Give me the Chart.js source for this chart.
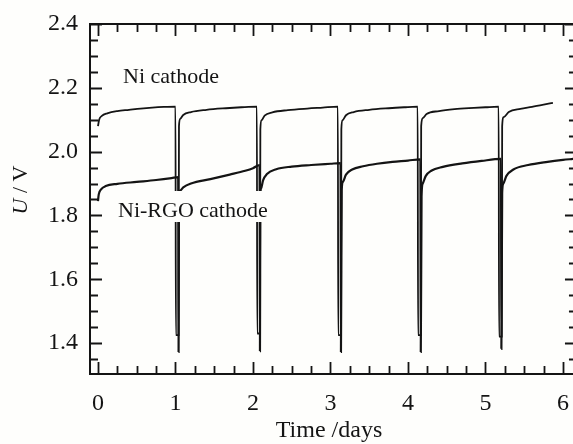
<!DOCTYPE html>
<html>
<head>
<meta charset="utf-8">
<script src="https://cdn.jsdelivr.net/npm/chart.js@4.4.1/dist/chart.umd.min.js"></script>
<style>
  html, body { margin: 0; padding: 0; background: #fefefc; }
  canvas { display: block; }
</style>
</head>
<body>
<canvas id="c" width="573" height="444"></canvas>
<script>
// ---- data ----
const niTime = [0, 0.015, 0.05, 0.12, 0.25, 0.4, 0.55, 0.7, 0.85, 1.0,
  1.005, 1.04, 1.045, 1.06, 1.1, 1.2, 1.4, 1.65, 1.85, 2.05,
  2.055, 2.09, 2.095, 2.11, 2.15, 2.25, 2.45, 2.7, 2.9, 3.095,
  3.10, 3.135, 3.14, 3.155, 3.2, 3.3, 3.5, 3.75, 3.95, 4.125,
  4.13, 4.165, 4.17, 4.19, 4.24, 4.4, 4.6, 4.85, 5.0, 5.17,
  5.175, 5.21, 5.215, 5.235, 5.3, 5.45, 5.6, 5.75, 5.87];
const niU = [2.08, 2.10, 2.112, 2.12, 2.127, 2.131, 2.135, 2.138, 2.14, 2.141,
  1.425, 1.425, 2.08, 2.103, 2.115, 2.124, 2.131, 2.136, 2.139, 2.141,
  1.43, 1.43, 2.07, 2.098, 2.113, 2.123, 2.13, 2.135, 2.138, 2.141,
  1.425, 1.425, 2.07, 2.098, 2.114, 2.124, 2.131, 2.136, 2.139, 2.141,
  1.425, 1.425, 2.08, 2.105, 2.118, 2.127, 2.133, 2.137, 2.139, 2.141,
  1.42, 1.42, 2.08, 2.108, 2.124, 2.134, 2.14, 2.147, 2.153];

const rgoTime = [0, 0.01, 0.04, 0.1, 0.25, 0.5, 0.75, 0.95, 1.035,
  1.04, 1.045, 1.06, 1.1, 1.2, 1.45, 1.7, 1.9, 2.0, 2.085,
  2.09, 2.095, 2.105, 2.13, 2.18, 2.3, 2.5, 2.75, 3.0, 3.13,
  3.135, 3.145, 3.16, 3.2, 3.28, 3.42, 3.6, 3.8, 4.0, 4.16,
  4.165, 4.175, 4.19, 4.23, 4.3, 4.45, 4.7, 4.95, 5.2,
  5.205, 5.215, 5.23, 5.27, 5.36, 5.55, 5.8, 6.0, 6.13];
const rgoU = [1.845, 1.866, 1.882, 1.892, 1.899, 1.905, 1.911, 1.917, 1.92,
  1.372, 1.86, 1.878, 1.888, 1.9, 1.914, 1.928, 1.94, 1.948, 1.958,
  1.375, 1.86, 1.885, 1.91, 1.93, 1.945, 1.953, 1.958, 1.962, 1.964,
  1.372, 1.88, 1.905, 1.928, 1.944, 1.954, 1.962, 1.968, 1.972, 1.976,
  1.372, 1.86, 1.9, 1.924, 1.94, 1.952, 1.963, 1.971, 1.977,
  1.382, 1.87, 1.9, 1.924, 1.944, 1.958, 1.968, 1.974, 1.977];

const xTickLabels = [0, 1, 2, 3, 4, 5, 6];
const yTickLabels = [1.4, 1.6, 1.8, 2.0, 2.2, 2.4];
const seriesNames = ['Ni cathode', 'Ni-RGO cathode'];
const xTitle = 'Time /days';
const xRange = [-0.103, 6.129];   // visible part of the axis
const xFrameRight = 6.18;         // right-hand axis sits just past the picture edge
const yRange = [1.303, 2.4];

// ---- styling ----
const SERIF = '"Liberation Serif", "Times New Roman", serif';
const INK = '#141414';

const bgPlugin = {
  id: 'bg',
  beforeDraw(chart) {
    const ctx = chart.ctx;
    ctx.save();
    ctx.fillStyle = '#fefefc';
    ctx.fillRect(0, 0, chart.width, chart.height);
    ctx.restore();
  }
};

const framePlugin = {
  id: 'frame',
  afterDatasetsDraw(chart) {
    const ctx = chart.ctx;
    const a = chart.chartArea;
    const xs = chart.scales.x, ys = chart.scales.y;
    const rx = xs.getPixelForValue(xFrameRight);
    ctx.save();
    // label boxes (white backgrounds hide spike lines)
    ctx.font = '22px ' + SERIF;
    ctx.textBaseline = 'alphabetic';
    ctx.textAlign = 'left';
    ctx.fillStyle = '#fefefc';
    const w2 = ctx.measureText(seriesNames[1]).width;
    ctx.fillRect(114, 191, w2 + 8, 31);
    ctx.fillStyle = INK;
    ctx.fillText(seriesNames[0], 123, 83);
    ctx.fillText(seriesNames[1], 118, 217);

    // frame
    ctx.strokeStyle = INK;
    ctx.lineWidth = 2;
    ctx.beginPath();
    ctx.moveTo(a.left, a.top); ctx.lineTo(rx, a.top);
    ctx.moveTo(a.left, a.bottom); ctx.lineTo(rx, a.bottom);
    ctx.moveTo(a.left, a.top - 1); ctx.lineTo(a.left, a.bottom + 1);
    ctx.moveTo(rx, a.top - 1); ctx.lineTo(rx, a.bottom + 1);
    ctx.stroke();

    // inward ticks
    ctx.lineWidth = 1.8;
    ctx.beginPath();
    for (let i = 0; i <= 25; i++) {
      const v = i * 0.25;
      const px = Math.round(xs.getPixelForValue(v)) + 0.5;
      if (px < a.left || px > rx) continue;
      const len = (i % 4 === 0) ? 12 : 8;
      ctx.moveTo(px, a.bottom); ctx.lineTo(px, a.bottom - len);
      ctx.moveTo(px, a.top); ctx.lineTo(px, a.top + len);
    }
    for (let i = 27; i <= 48; i++) {
      const v = i * 0.05;
      const py = Math.round(ys.getPixelForValue(v)) + 0.5;
      if (py < a.top || py > a.bottom) continue;
      const len = (i % 4 === 0) ? 12 : 8;
      ctx.moveTo(a.left, py); ctx.lineTo(a.left + len, py);
      ctx.moveTo(rx, py); ctx.lineTo(rx - len, py);
    }
    ctx.stroke();

    // axis titles
    ctx.fillStyle = INK;
    ctx.font = '24px ' + SERIF;
    ctx.textAlign = 'center';
    ctx.textBaseline = 'middle';
    ctx.fillText(xTitle, 329, 431);

    ctx.translate(21, 190);
    ctx.rotate(-Math.PI / 2);
    ctx.textBaseline = 'middle';
    ctx.textAlign = 'left';
    ctx.font = 'italic 22px ' + SERIF;
    const uW = ctx.measureText('U').width;
    ctx.font = '22px ' + SERIF;
    const restW = ctx.measureText(' / V').width;
    const start = -(uW + restW) / 2;
    ctx.font = 'italic 22px ' + SERIF;
    ctx.fillText('U', start, 0);
    ctx.font = '22px ' + SERIF;
    ctx.fillText(' / V', start + uW, 0);
    ctx.restore();
  }
};

const mk = (ts, vs) => ts.map((t, i) => ({ x: t, y: vs[i] }));

new Chart(document.getElementById('c'), {
  type: 'line',
  data: {
    datasets: [
      {
        label: seriesNames[0],
        data: mk(niTime, niU),
        borderColor: INK,
        borderWidth: 1.8,
        pointRadius: 0,
        cubicInterpolationMode: 'monotone',
        fill: false
      },
      {
        label: seriesNames[1],
        data: mk(rgoTime, rgoU),
        borderColor: INK,
        borderWidth: 2.2,
        pointRadius: 0,
        cubicInterpolationMode: 'monotone',
        fill: false
      }
    ]
  },
  options: {
    responsive: false,
    animation: false,
    devicePixelRatio: 1,
    layout: { padding: { left: 0, right: 0, top: 24, bottom: 0 } },
    plugins: { legend: { display: false }, tooltip: { enabled: false } },
    scales: {
      x: {
        type: 'linear',
        min: xRange[0],
        max: xRange[1],
        afterFit: s => { s.height = 70; s.paddingLeft = 0; s.paddingRight = 0; },
        afterBuildTicks: s => { s.ticks = xTickLabels.map(v => ({ value: v })); },
        grid: { display: false, drawTicks: false },
        border: { display: false },
        ticks: {
          padding: 15,
          color: INK,
          font: { family: SERIF, size: 24 },
          maxRotation: 0,
          callback: v => String(v)
        }
      },
      y: {
        type: 'linear',
        min: yRange[0],
        max: yRange[1],
        afterFit: s => { s.width = 90; s.paddingTop = 0; s.paddingBottom = 0; },
        afterBuildTicks: s => { s.ticks = yTickLabels.map(v => ({ value: v })); },
        grid: { display: false, drawTicks: false },
        border: { display: false },
        ticks: {
          padding: 12,
          color: INK,
          font: { family: SERIF, size: 24 },
          callback: v => Number(v).toFixed(1)
        }
      }
    }
  },
  plugins: [bgPlugin, framePlugin]
});
</script>
</body>
</html>
